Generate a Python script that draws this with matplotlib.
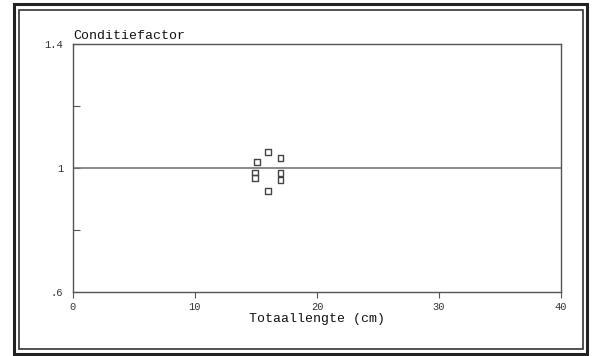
import matplotlib
matplotlib.use("Agg")
import matplotlib.pyplot as plt
from matplotlib.patches import Rectangle

# Conditiefactor vs totaallengte
lengte = [16.0, 17.0, 15.1, 14.9, 14.9, 17.0, 17.0, 16.0]
conditie = [1.051, 1.032, 1.020, 0.985, 0.967, 0.983, 0.961, 0.925]
x_ticks = [0, 10, 20, 30, 40]
x_ticklabels = ["0", "10", "20", "30", "40"]
y_ticks = [0.6, 0.8, 1.0, 1.2, 1.4]
y_ticklabels = [".6", "", "1", "", "1.4"]

FONT = "Liberation Mono"
INK = "#555555"

fig = plt.figure(figsize=(5.96, 3.56), dpi=100)
fig.patch.set_facecolor("white")

# double border around the page
fig.patches.append(Rectangle((14 / 596, 1 - 354 / 356), 573 / 596, 350 / 356,
                             transform=fig.transFigure, fill=False,
                             edgecolor="#222222", linewidth=2.2))
fig.patches.append(Rectangle((18.5 / 596, 1 - 349 / 356), 564.5 / 596, 339 / 356,
                             transform=fig.transFigure, fill=False,
                             edgecolor="#333333", linewidth=1.2))

ax = fig.add_axes([73 / 596, 64 / 356, 488 / 596, 248 / 356])
ax.set_xlim(0, 40)
ax.set_ylim(0.6, 1.4)

for s in ax.spines.values():
    s.set_color(INK)
    s.set_linewidth(1.0)

ax.axhline(1.0, color="#777777", linewidth=1.2)
ax.scatter(lengte, conditie, marker="s", s=16, facecolors="none",
           edgecolors="#444444", linewidths=1.0, zorder=3)

ax.set_xticks(x_ticks)
ax.set_xticklabels(x_ticklabels, fontsize=7.5, family=FONT, color="#333333")
ax.set_yticks(y_ticks)
ax.set_yticklabels(y_ticklabels, fontsize=7.5, family=FONT, color="#333333")
ax.tick_params(axis="x", direction="out", length=4, width=0.8, color=INK, pad=3)
ax.tick_params(axis="y", direction="in", length=5, width=0.8, color=INK, pad=7)

ax.set_xlabel("Totaallengte (cm)", fontsize=9.5, family=FONT, color="#111111",
              labelpad=1)
ax.text(0.0, 1.008, "Conditiefactor", transform=ax.transAxes, ha="left",
        va="bottom", fontsize=9.5, family=FONT, color="#111111")

fig.savefig("out.png", dpi=100)
